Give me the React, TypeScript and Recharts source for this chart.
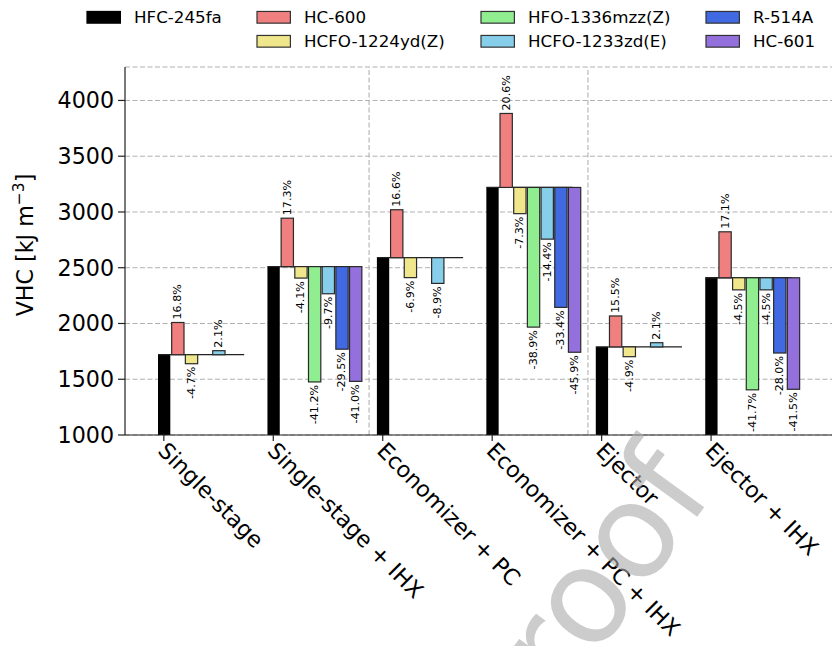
import React from 'react';
import {
  ComposedChart,
  Bar,
  XAxis,
  YAxis,
  CartesianGrid,
  ReferenceLine,
  LabelList,
} from 'recharts';

const FONT = '"DejaVu Sans", sans-serif';

// Cycle configurations (x-axis categories)
const configurations = [
  'Single-stage',
  'Single-stage + IHX',
  'Economizer + PC',
  'Economizer + PC + IHX',
  'Ejector',
  'Ejector + IHX',
];

// Working fluids, in bar order inside each group
const refrigerants = [
  'HFC-245fa',
  'HC-600',
  'HCFO-1224yd(Z)',
  'HFO-1336mzz(Z)',
  'HCFO-1233zd(E)',
  'R-514A',
  'HC-601',
];
const fluidColors = ['#000000', '#F08080', '#F0E68C', '#90EE90', '#87CEEB', '#4169E1', '#9370DB'];

// Volumetric heating capacity of the HFC-245fa reference [kJ m^-3]
const baseVHC = [1720, 2510, 2590, 3220, 1790, 2410];

// Relative change of VHC against HFC-245fa [%] (null = fluid not evaluated)
const hc600 = [16.8, 17.3, 16.6, 20.6, 15.5, 17.1];
const hcfo1224ydZ = [-4.7, -4.1, -6.9, -7.3, -4.9, -4.5];
const hfo1336mzzZ = [null, -41.2, null, -38.9, null, -41.7];
const hcfo1233zdE = [2.1, -9.7, -8.9, -14.4, 2.1, -4.5];
const r514a = [null, -29.5, null, -33.4, null, -28.0];
const hc601 = [null, -41.0, null, -45.9, null, -41.5];

const deviations: (number | null)[][] = [hc600, hcfo1224ydZ, hfo1336mzzZ, hcfo1233zdE, r514a, hc601];

const yTicks = [1000, 1500, 2000, 2500, 3000, 3500, 4000];
const Y_MIN = 1000;
const Y_MAX = 4300;

// Configurations separated by a dashed vertical line (after these groups)
const separatorsAfter = [1, 3];

// Legend placement: [column, row] per fluid
const legendCells: [number, number][] = [
  [0, 0],
  [1, 0],
  [1, 1],
  [2, 0],
  [2, 1],
  [3, 0],
  [3, 1],
];

// ---- layout ----
const W = 833;
const H = 646;
const PLOT_LEFT = 125;
const PLOT_RIGHT = 832;
const PLOT_TOP = 67;
const PLOT_BOTTOM = 435;
const X_PAD = 32;

type Row = {
  slot: string;
  group: number;
  member: number; // -1 for spacer slot
  range: [number, number] | null;
  pct: number | null;
  color: string;
};

const rows: Row[] = [];
configurations.forEach((_, g) => {
  const base = baseVHC[g];
  rows.push({ slot: `${g}-0`, group: g, member: 0, range: [Y_MIN, base], pct: null, color: fluidColors[0] });
  deviations.forEach((series, k) => {
    const pct = series[g];
    let range: [number, number] | null = null;
    if (pct !== null) {
      const v = base * (1 + pct / 100);
      range = [Math.min(base, v), Math.max(base, v)];
    }
    rows.push({ slot: `${g}-${k + 1}`, group: g, member: k + 1, range, pct, color: fluidColors[k + 1] });
  });
  if (g < configurations.length - 1) {
    rows.push({ slot: `${g}-gap`, group: g, member: -1, range: null, pct: null, color: 'none' });
  }
});
const rowBySlot = new Map(rows.map((r) => [r.slot, r]));
const slotWidth = (PLOT_RIGHT - PLOT_LEFT - 2 * X_PAD) / rows.length;

const BarShape = (props: any) => {
  const { x, y, width, height, payload } = props;
  if (!payload || !payload.range || !Number.isFinite(y) || !Number.isFinite(height)) return null;
  if (payload.member === 0) {
    const groupRight = x + width * refrigerants.length;
    return (
      <g>
        <rect x={x} y={y} width={width} height={height} fill="#000" />
        <line x1={x} x2={groupRight} y1={y} y2={y} stroke="#222" strokeWidth={1.3} />
      </g>
    );
  }
  return (
    <rect x={x} y={y} width={width} height={height} fill={payload.color} stroke="#2a2a2a" strokeWidth={1.2} />
  );
};

const PctLabel = (props: any) => {
  const { value } = props;
  if (value === null || value === undefined || !Number.isFinite(Number(value))) return null;
  const pct = Number(value);
  const box = props.viewBox && props.viewBox.width !== undefined ? props.viewBox : props;
  const cx = box.x + box.width / 2;
  const positive = pct >= 0;
  const top = Math.min(box.y, box.y + box.height);
  const bottom = Math.max(box.y, box.y + box.height);
  const ly = positive ? top - 3 : bottom + 3;
  return (
    <text
      x={cx}
      y={ly}
      transform={`rotate(-90, ${cx}, ${ly})`}
      textAnchor={positive ? 'start' : 'end'}
      dominantBaseline="central"
      fontSize={11.1}
      fontFamily={FONT}
      fill="#000"
    >
      {`${pct.toFixed(1)}%`}
    </text>
  );
};

const CategoryTick = (props: any) => {
  const { x, y, payload } = props;
  const row = rowBySlot.get(payload.value);
  if (!row || row.member !== 0) return null;
  const ax = x - 7;
  const ay = y + 11;
  return (
    <g>
      <line x1={x} x2={x} y1={y - 6} y2={y} stroke="#222" strokeWidth={1.2} />
      <text
        x={ax}
        y={ay}
        transform={`rotate(45, ${ax}, ${ay})`}
        textAnchor="start"
        fontSize={22.2}
        fontFamily={FONT}
        fill="#000"
      >
        {configurations[row.group]}
      </text>
    </g>
  );
};

const YLabel = () => {
  const cx = 33;
  const cy = 245;
  return (
    <text
      x={cx}
      y={cy}
      transform={`rotate(-90, ${cx}, ${cy})`}
      textAnchor="middle"
      fontSize={22.2}
      fontFamily={FONT}
      fill="#000"
    >
      VHC [kJ m
      <tspan dy={-9} fontSize={15.5}>
        −3
      </tspan>
      <tspan dy={9}>]</tspan>
    </text>
  );
};

const legendColX = [87, 257, 481, 706];
const legendRowY = [17.3, 41.3];

const Legend = () => (
  <g>
    {refrigerants.map((name, i) => {
      const [c, r] = legendCells[i];
      const px = legendColX[c];
      const cy = legendRowY[r];
      return (
        <g key={name}>
          <rect
            x={px}
            y={cy - 5.85}
            width={33.4}
            height={11.7}
            fill={fluidColors[i]}
            stroke={i === 0 ? '#000' : '#333'}
            strokeWidth={1.2}
          />
          <text x={px + 47} y={cy} dominantBaseline="central" fontSize={16.7} fontFamily={FONT} fill="#000">
            {name}
          </text>
        </g>
      );
    })}
  </g>
);

export default function App() {
  return (
    <div style={{ position: 'absolute', left: 0, top: 0, width: W, height: H, background: '#fff' }}>
      <ComposedChart
        width={W}
        height={H}
        data={rows}
        margin={{ top: PLOT_TOP, right: W - PLOT_RIGHT, bottom: 0, left: 0 }}
        barCategoryGap={0}
        barGap={0}
      >
        <CartesianGrid vertical={false} stroke="#b0b0b0" strokeDasharray="5 2.5" strokeWidth={1} />
        <XAxis
          dataKey="slot"
          type="category"
          interval={0}
          height={H - PLOT_BOTTOM}
          padding={{ left: X_PAD, right: X_PAD }}
          tickLine={false}
          tickSize={6}
          tickMargin={0}
          axisLine={{ stroke: '#222', strokeWidth: 1.2 }}
          tick={<CategoryTick />}
        />
        <XAxis
          xAxisId="frame"
          dataKey="slot"
          type="category"
          orientation="top"
          height={0}
          tick={false}
          tickLine={false}
          axisLine={{ stroke: '#222', strokeWidth: 1.2 }}
        />
        <YAxis
          type="number"
          domain={[Y_MIN, Y_MAX]}
          ticks={yTicks}
          allowDataOverflow
          width={PLOT_LEFT}
          tickSize={7}
          tickMargin={4}
          tickLine={{ stroke: '#222', strokeWidth: 1.2 }}
          axisLine={{ stroke: '#222', strokeWidth: 1.2 }}
          tick={{ fontSize: 22.2, fontFamily: FONT, fill: '#000' }}
          label={{ content: <YLabel /> }}
        />
        <YAxis
          yAxisId="frame"
          orientation="right"
          type="number"
          domain={[Y_MIN, Y_MAX]}
          width={0}
          tick={false}
          tickLine={false}
          axisLine={{ stroke: '#222', strokeWidth: 1.2 }}
        />
        {separatorsAfter.map((g) => (
          <ReferenceLine key={g} x={`${g}-gap`} stroke="#aaaaaa" strokeDasharray="5 2.5" strokeWidth={1} />
        ))}
        <Bar dataKey="range" isAnimationActive={false} barSize={slotWidth} shape={<BarShape />}>
          <LabelList dataKey="pct" content={<PctLabel />} />
        </Bar>
      </ComposedChart>
      <svg
        width={W}
        height={H}
        style={{ position: 'absolute', left: 0, top: 0, pointerEvents: 'none' }}
      >
        <Legend />
        <text
          x={716}
          y={491}
          transform="rotate(-54, 716, 491)"
          textAnchor="end"
          fontSize={132}
          fontFamily={FONT}
          fill="#aaaaaa"
          fillOpacity={0.6}
        >
          Journal Pre-proof
        </text>
      </svg>
    </div>
  );
}
